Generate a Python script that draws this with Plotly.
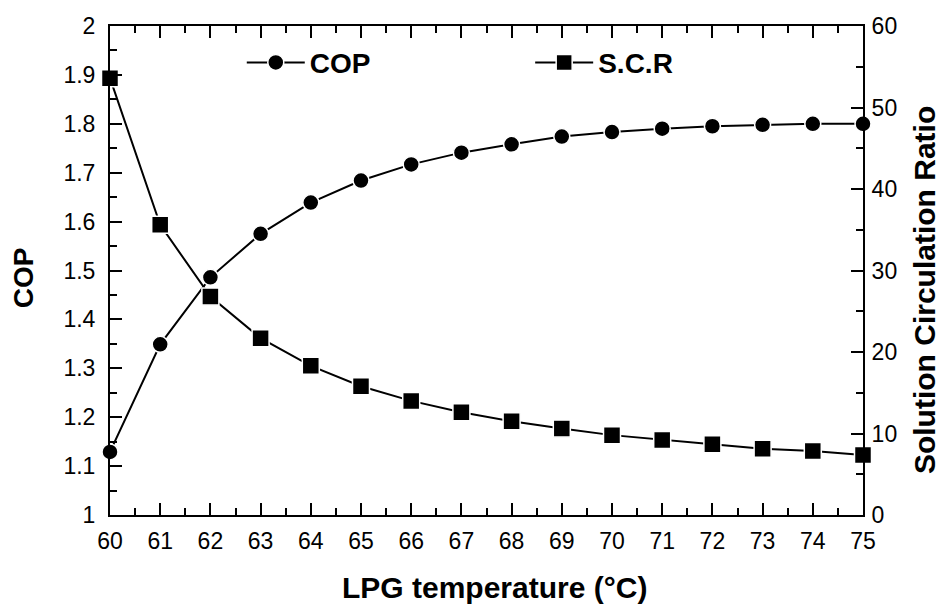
import plotly.graph_objects as go

temperature = [60, 61, 62, 63, 64, 65, 66, 67, 68, 69, 70, 71, 72, 73, 74, 75]
cop = [1.129, 1.349, 1.486, 1.575, 1.639, 1.684, 1.717, 1.741, 1.758, 1.774,
       1.783, 1.790, 1.795, 1.798, 1.800, 1.800]
scr = [53.6, 35.6, 26.8, 21.7, 18.3, 15.8, 14.0, 12.6, 11.5, 10.6,
       9.8, 9.2, 8.67, 8.14, 7.85, 7.36]

x_ticks = list(range(60, 76))
cop_ticks = [1, 1.1, 1.2, 1.3, 1.4, 1.5, 1.6, 1.7, 1.8, 1.9, 2]
cop_labels = ["1", "1.1", "1.2", "1.3", "1.4", "1.5", "1.6", "1.7", "1.8", "1.9", "2"]
scr_ticks = [0, 10, 20, 30, 40, 50, 60]

FONT = "Liberation Sans, Arial, sans-serif"
TITLE_FONT = dict(family=FONT, color="black", weight="bold")

fig = go.Figure()
fig.add_trace(go.Scatter(
    x=temperature, y=cop, name="COP", mode="lines+markers", legend="legend",
    line=dict(color="black", width=2),
    marker=dict(symbol="circle", size=16, color="black",
                line=dict(color="white", width=1.5)),
    cliponaxis=False,
))
fig.add_trace(go.Scatter(
    x=temperature, y=scr, name="S.C.R", mode="lines+markers", yaxis="y2",
    legend="legend2",
    line=dict(color="black", width=2),
    marker=dict(symbol="square", size=17, color="black",
                line=dict(color="white", width=1.5)),
    cliponaxis=False,
))

axis_common = dict(
    showline=True, linecolor="black", linewidth=2,
    ticks="inside", tickcolor="black", tickwidth=2, ticklen=12,
    showgrid=False, zeroline=False,
    tickfont=dict(family=FONT, size=23, color="black"),
)

legend_common = dict(
    orientation="h", yanchor="middle", xanchor="left",
    font=dict(family=FONT, size=28, color="black", weight="bold"),
    bgcolor="rgba(0,0,0,0)", itemwidth=58,
)

fig.update_layout(
    width=944, height=605,
    margin=dict(l=110, r=81, t=26, b=90),
    paper_bgcolor="white", plot_bgcolor="white",
    showlegend=True,
    legend=dict(**legend_common, x=0.175, y=0.925),
    legend2=dict(**legend_common, x=0.558, y=0.925),
    xaxis=dict(
        **axis_common, range=[60, 75], tickvals=x_ticks, mirror="ticks",
        ticklabelstandoff=4,
        minor=dict(ticks="inside", dtick=0.5, ticklen=7, tickwidth=2, tickcolor="black"),
    ),
    yaxis=dict(
        **axis_common, range=[1, 2], tickvals=cop_ticks, ticktext=cop_labels,
        ticklabelstandoff=8,
        minor=dict(ticks="inside", dtick=0.05, ticklen=7, tickwidth=2, tickcolor="black"),
    ),
    yaxis2=dict(
        **axis_common, range=[0, 60], tickvals=scr_ticks, overlaying="y", side="right",
        ticklabelstandoff=2,
        minor=dict(ticks="inside", dtick=5, ticklen=7, tickwidth=2, tickcolor="black"),
    ),
    annotations=[
        dict(text="LPG temperature (°C)", xref="paper", yref="paper",
             x=0.511, y=-0.148, xanchor="center", yanchor="middle",
             showarrow=False, font=dict(**TITLE_FONT, size=30)),
        dict(text="COP", xref="paper", yref="paper", textangle=-90,
             x=-0.115, y=0.485, xanchor="center", yanchor="middle",
             showarrow=False, font=dict(**TITLE_FONT, size=28)),
        dict(text="Solution Circulation Ratio", xref="paper", yref="paper",
             textangle=-90, x=1.081, y=0.46, xanchor="center", yanchor="middle",
             showarrow=False, font=dict(**TITLE_FONT, size=30)),
    ],
)

fig.write_html("out.html")
